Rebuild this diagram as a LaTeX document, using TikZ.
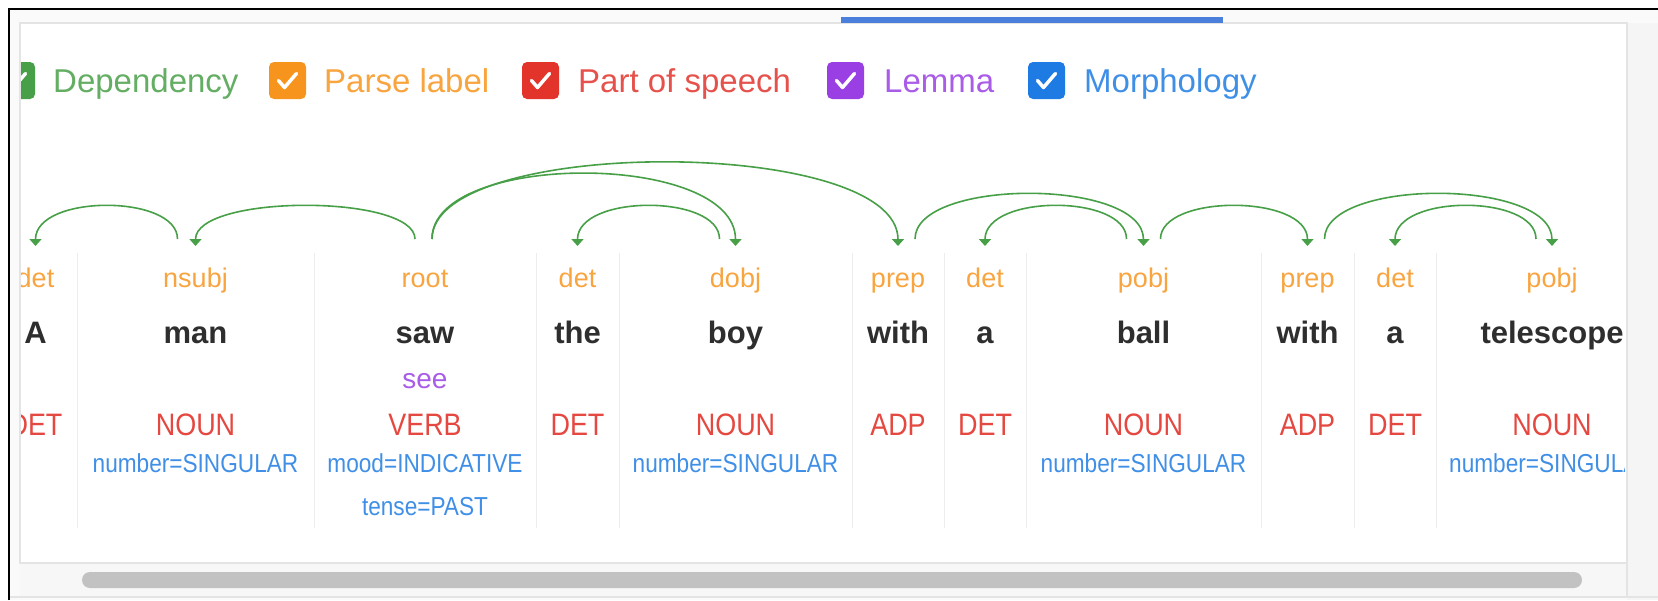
\documentclass[tikz,border=0pt]{standalone}
\usepackage{fontspec}
\setmainfont{Liberation Sans}
\newfontfamily\narrowsans[FakeStretch=0.87]{Liberation Sans}
\usetikzlibrary{arrows.meta}
\definecolor{depgreen}{HTML}{47A047}
\definecolor{parseorange}{HTML}{F7941D}
\definecolor{posred}{HTML}{E2342B}
\definecolor{lemmapurple}{HTML}{9A3FE4}
\definecolor{morphblue}{HTML}{1E7BE3}
\definecolor{wordgray}{HTML}{2E2E2E}
\definecolor{rulegray}{HTML}{E4E4E4}
\definecolor{tabblue}{HTML}{4A7FDB}

\begin{document}
\begin{tikzpicture}[x=1pt, y=-1pt,
    dep/.style={draw=depgreen, line width=1.6pt, -{Triangle[width=12pt,length=7pt]}},
    chkbox/.style={minimum size=37pt, inner sep=0pt, rounded corners=5pt},
    tick/.style={draw=white, line width=3.5pt, line cap=round, line join=round},
    legend/.style={inner sep=0pt, anchor=base west, font=\fontsize{33}{38}\selectfont},
    word/.style={inner sep=0pt, anchor=base, text=wordgray, font=\bfseries\fontsize{31}{36}\selectfont},
    lab/.style={inner sep=0pt, anchor=base, text=parseorange!85!white, font=\fontsize{27}{30}\selectfont},
    postag/.style={inner sep=0pt, anchor=base, text=posred!90!white, font=\narrowsans\fontsize{31}{34}\selectfont},
    morph/.style={inner sep=0pt, anchor=base, text=morphblue!85!white, font=\narrowsans\fontsize{26}{28}\selectfont},
    colsep/.style={draw=black!7, line width=1pt}]
    \useasboundingbox (0,0) rectangle (1658,600);
    \fill[white] (0,0) rectangle (1658,600);
    \fill[black!2] (9,9) rectangle (1658,600);
    \fill[black!4] (1627,23) rectangle (1658,600);
    \fill[black!3] (20,563) rectangle (1627,597);
    \draw[rulegray, fill=white, line width=1.5pt] (20,23) rectangle (1627,563);
    \draw[rulegray, line width=1.5pt] (9,597) -- (1658,597) (1627,563) -- (1627,597);
    \fill[black!24, rounded corners=8pt] (82,572) rectangle (1582,588);
    \fill[tabblue] (841,17) rectangle (1223,23);
    \draw[line width=2pt] (9,600) -- (9,9) -- (1658,9);
    \begin{scope}
        \clip (21,24) rectangle (1624,562);
        \foreach \bx/\tx/\col/\name [count=\i] in {16.5/53/depgreen/Dependency, 287.5/324/parseorange/Parse label, 540.5/578/posred/Part of speech, 845.5/884/lemmapurple/Lemma, 1046.5/1084/morphblue/Morphology}
        {
            \node[chkbox, fill=\col] (box\i) at (\bx,80.5) {};
            \draw[tick] ([xshift=-9pt]box\i.center) -- ++(6,7) -- ++(12,-14);
            \node[legend, text=\col!85!white] (name\i) at (\tx,92) {\name};
        }
        \foreach \x in {77,314,536,619,852,944,1026,1261,1354,1436}
            \draw[colsep] (\x,253) -- (\x,528);
        \foreach \w/\l/\r/\lab/\ptag [count=\i] in {A/-6/77/det/DET, man/77/314/nsubj/NOUN, saw/314/536/root/VERB, the/536/619/det/DET, boy/619/852/dobj/NOUN, with/852/944/prep/ADP, a/944/1026/det/DET, ball/1026/1261/pobj/NOUN, with/1261/1354/prep/ADP, a/1354/1436/det/DET, telescope/1436/1668/pobj/NOUN}
        {
            \pgfmathsetmacro\c{(\l+\r)/2}
            \node[lab] (l\i) at (\c,287) {\lab};
            \node[word] (w\i) at (\c,343) {\w};
            \node[postag] (p\i) at (\c,435) {\ptag};
            \coordinate (s\i) at (\c,239);
            \coordinate (t\i) at (\c,246);
        }
        \node[lab, text=lemmapurple!85!white, font=\fontsize{28}{30}\selectfont] (m3) at (w3 |- 0,388) {see};
        \foreach \i in {2,5,8,11}
            \node[morph] (f\i) at (p\i |- 0,472) {number=SINGULAR};
        \node[morph] (f3) at (p3 |- 0,472) {mood=INDICATIVE};
        \node[morph] (g3) at (p3 |- 0,515) {tense=PAST};
        \foreach \s/\dx/\t/\h in {2/-18/1/45, 3/-10/2/45, 3/7/5/88, 3/7/6/103, 5/-16/4/45, 6/17/8/61, 8/-17/7/45, 8/17/9/45, 9/17/11/61, 11/-16/10/45}
            \draw[dep] ([xshift=\dx pt]s\s) .. controls +(0,-\h) and +(0,-\h-7) .. (t\t);
    \end{scope}
\end{tikzpicture}
\end{document}
